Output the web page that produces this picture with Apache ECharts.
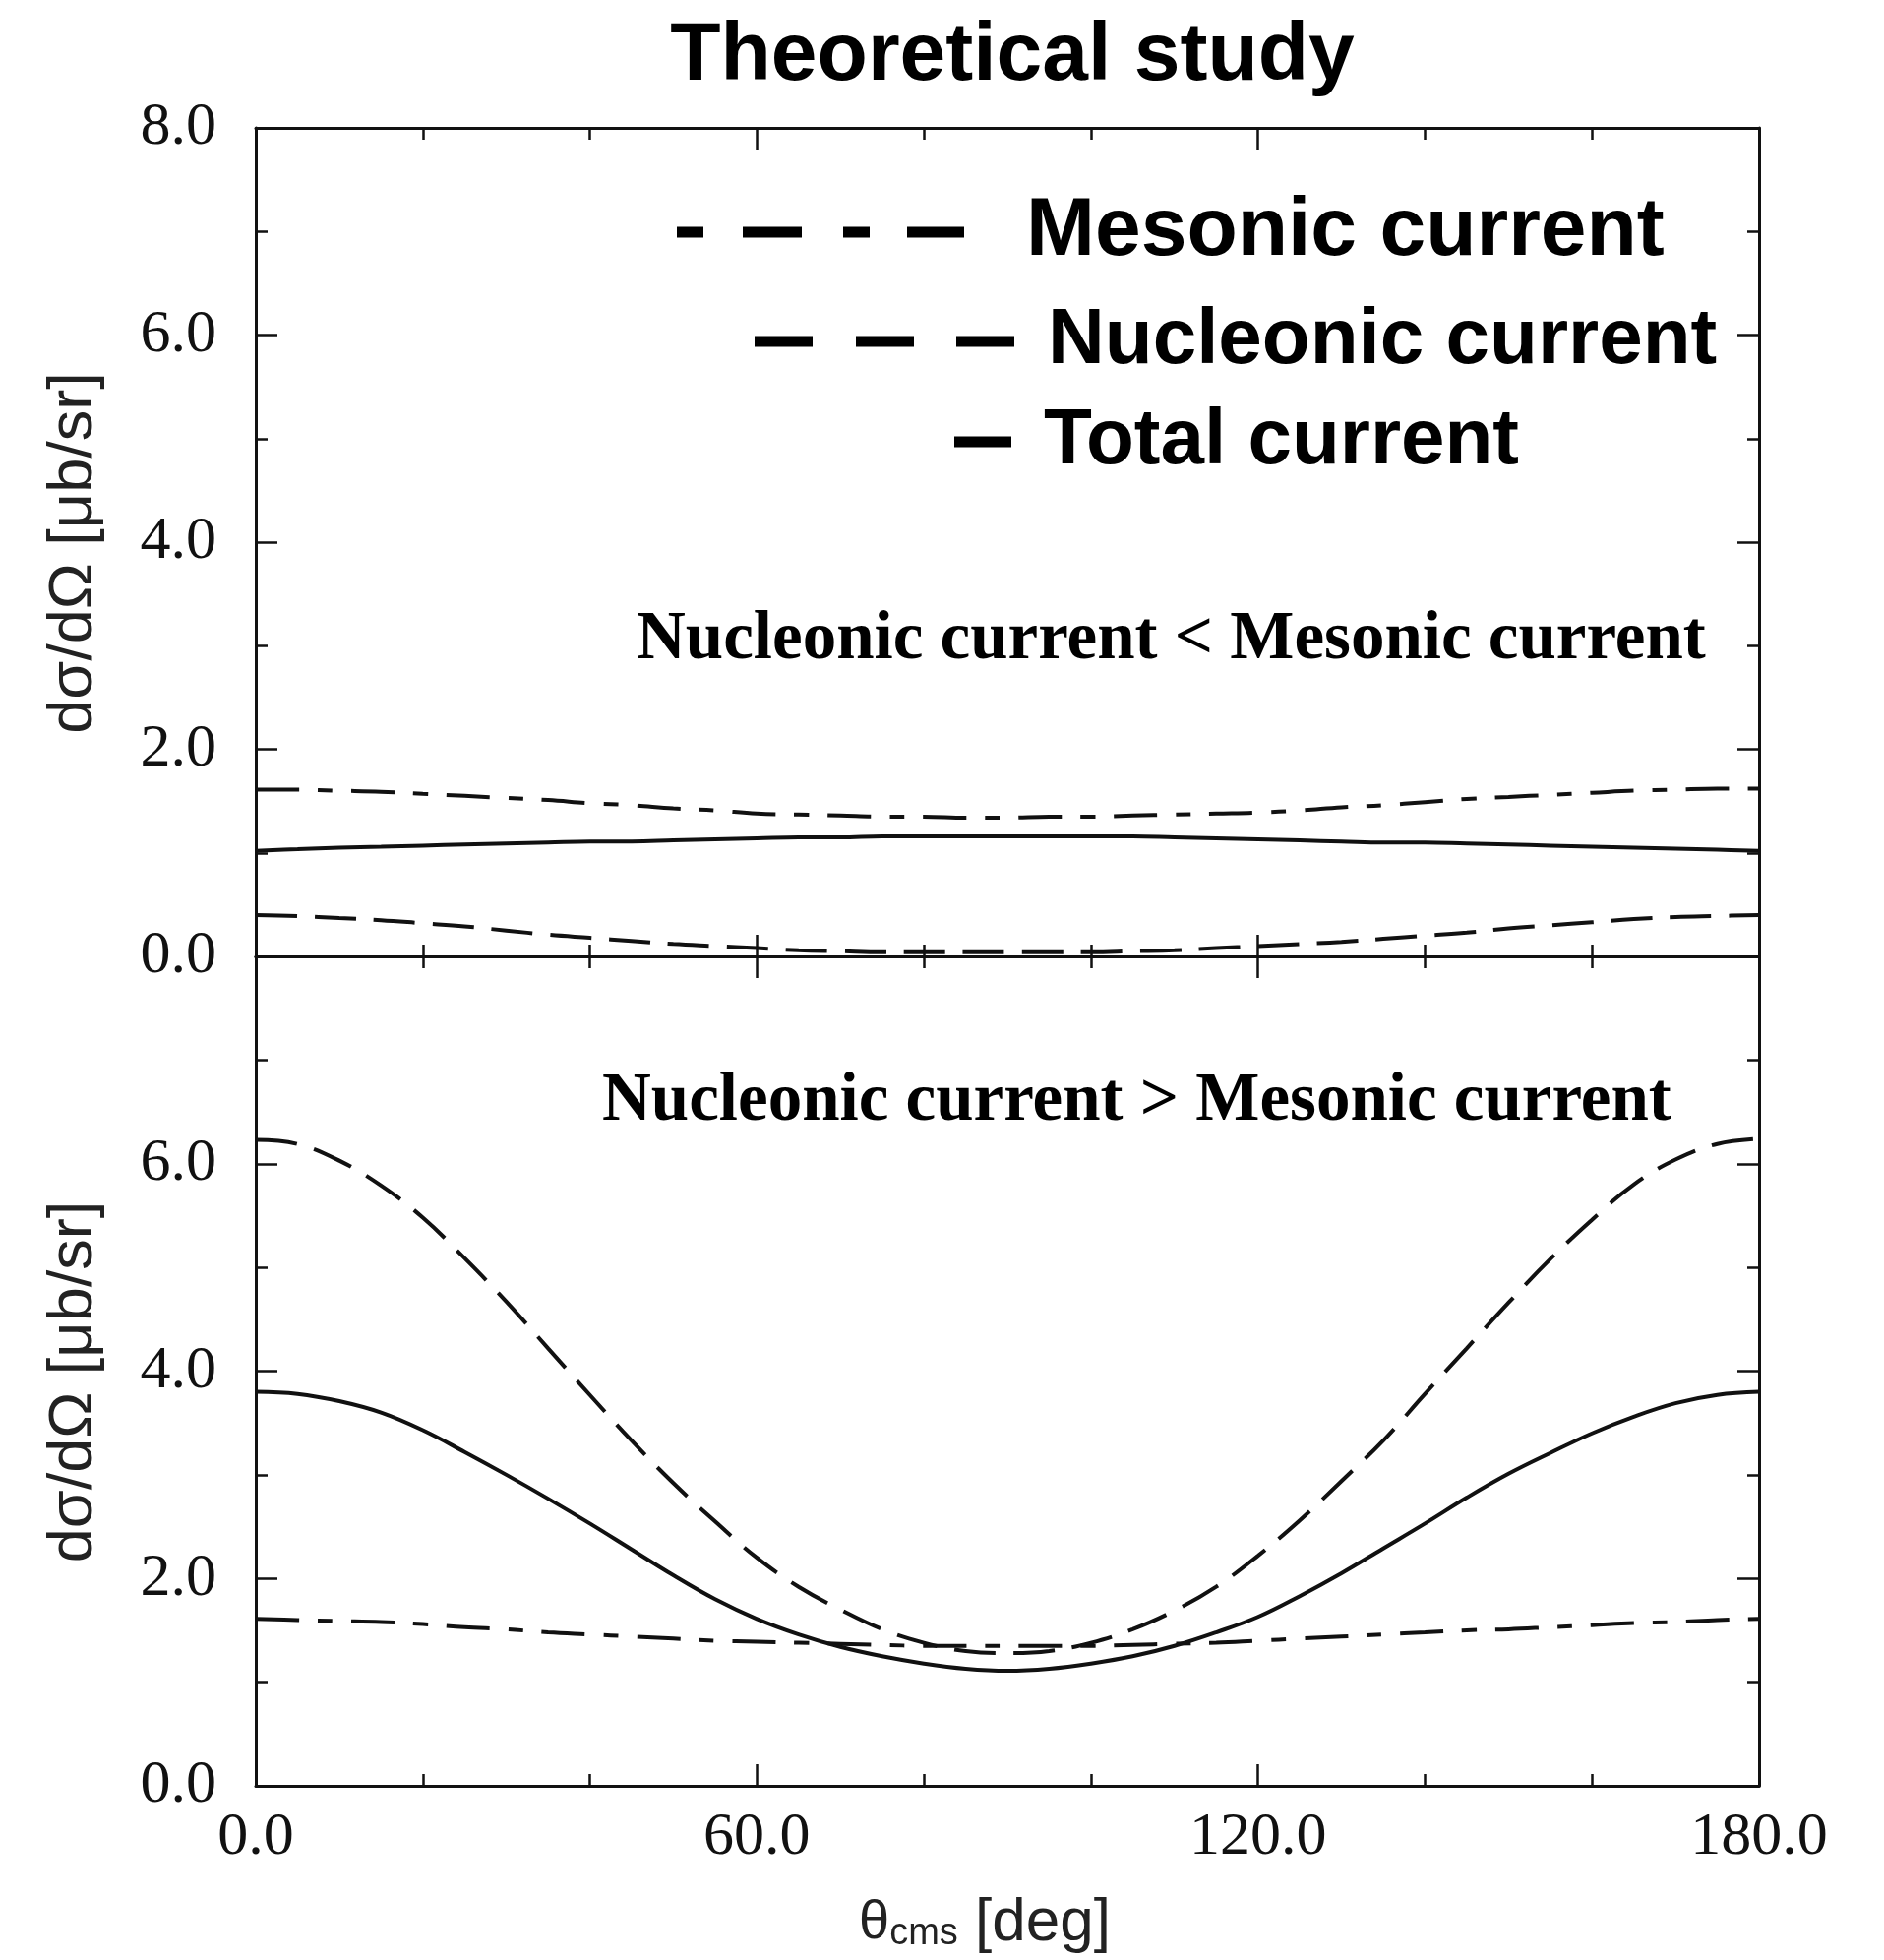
<!DOCTYPE html>
<html>
<head>
<meta charset="utf-8">
<script src="https://cdn.jsdelivr.net/npm/echarts@6/dist/echarts.min.js"></script>
<style>
html,body{margin:0;padding:0;background:#fff;}
#chart{width:1915px;height:1992px;}
</style>
</head>
<body>
<div id="chart"></div>
<script>
// ---- data (theta in degrees, every 5 deg) ----
const angles = [0,5,10,15,20,25,30,35,40,45,50,55,60,65,70,75,80,85,90,
                95,100,105,110,115,120,125,130,135,140,145,150,155,160,165,170,175,180];

// upper panel: Nucleonic current < Mesonic current
const mesonicTop   = [1.61,1.61,1.60,1.59,1.57,1.55,1.53,1.51,1.48,1.46,1.43,1.41,1.38,1.37,1.36,1.35,1.35,1.34,1.34,
                      1.35,1.35,1.36,1.37,1.38,1.39,1.41,1.44,1.46,1.49,1.52,1.54,1.56,1.58,1.60,1.61,1.62,1.62];
const nucleonicTop = [0.40,0.39,0.37,0.35,0.32,0.29,0.25,0.21,0.18,0.15,0.12,0.10,0.08,0.06,0.05,0.04,0.04,0.04,0.04,
                      0.04,0.04,0.05,0.06,0.08,0.10,0.12,0.14,0.17,0.20,0.23,0.27,0.30,0.33,0.36,0.38,0.39,0.40];
const totalTop     = [1.02,1.035,1.05,1.06,1.07,1.08,1.09,1.10,1.11,1.11,1.12,1.13,1.14,1.15,1.15,1.16,1.16,1.16,1.16,
                      1.16,1.16,1.16,1.15,1.14,1.13,1.12,1.11,1.10,1.10,1.09,1.08,1.07,1.06,1.05,1.04,1.03,1.02];

// lower panel: Nucleonic current > Mesonic current
const mesonicBottom   = [1.61,1.60,1.59,1.58,1.56,1.53,1.51,1.48,1.46,1.44,1.42,1.40,1.39,1.38,1.37,1.36,1.35,1.35,1.35,
                         1.35,1.35,1.36,1.37,1.38,1.40,1.42,1.44,1.46,1.48,1.50,1.51,1.53,1.55,1.57,1.58,1.60,1.61];
const nucleonicBottom = [6.23,6.19,6.03,5.79,5.48,5.09,4.67,4.22,3.77,3.33,2.92,2.55,2.20,1.92,1.70,1.51,1.38,1.30,1.28,
                         1.30,1.38,1.51,1.69,1.92,2.22,2.56,2.94,3.33,3.78,4.22,4.66,5.08,5.46,5.80,6.04,6.19,6.24];
const totalBottom     = [3.80,3.78,3.71,3.60,3.43,3.22,3.00,2.77,2.53,2.28,2.03,1.80,1.61,1.46,1.34,1.25,1.18,1.13,1.11,
                         1.13,1.18,1.25,1.35,1.48,1.63,1.83,2.05,2.29,2.53,2.78,3.01,3.21,3.40,3.56,3.69,3.77,3.80];

const xTickLabels = ['0.0','60.0','120.0','180.0'];
const yTickLabels = ['0.0','2.0','4.0','6.0','8.0'];

const seriesNames = ['Mesonic current','Nucleonic current','Total current'];
const titleText = 'Theoretical study';
const noteTop = 'Nucleonic current < Mesonic current';
const noteBottom = 'Nucleonic current > Mesonic current';
const yName = 'dσ/dΩ [μb/sr]';

// ---- styling ----
const INK = '#111';
const SERIF = '"Liberation Serif","Times New Roman",serif';
const SANS = '"Liberation Sans",Arial,sans-serif';
const dashMeson = [44,19,15,19];
const dashNucl = [42,18];
// legend swatch shapes (dash-dot, dashed, solid) as icon paths
const iconMeson = 'path://M0,0H27V11H0Z M67,0H127V11H67Z M169,0H196V11H169Z M234,0H292V11H234Z';
const iconNucl  = 'path://M0,0H59V11H0Z M103,0H162V11H103Z M205,0H264V11H205Z';
const iconTotal = 'path://M0,0H58V11H0Z';

function pairs(arr){ return angles.map((a,i)=>[a,arr[i]]); }

function xAxisCfg(gridIndex, position, showLabels, withName){
  const cfg = {
    type:'value', gridIndex, position, min:0, max:180, interval:60,
    axisLine:{show:true, onZero:false, lineStyle:{color:INK, width:3}},
    axisTick:{show:true, inside:true, length:22, lineStyle:{color:INK, width:2.5}},
    minorTick:{show:true, splitNumber:3, length:12, lineStyle:{color:INK, width:2.5}},
    splitLine:{show:false}, minorSplitLine:{show:false},
    axisLabel:{show:showLabels, margin:22, fontSize:62, fontFamily:SERIF, color:INK,
      formatter:(v)=>xTickLabels[Math.round(v/60)]}
  };
  if (withName){
    cfg.name = '{t|θ}{s|cms}{n| [deg]}';
    cfg.nameLocation = 'middle';
    cfg.nameGap = 110;
    cfg.nameTextStyle = {padding:[0,46,0,0], rich:{
      t:{fontSize:56, fontFamily:SANS, color:'#222', lineHeight:60},
      s:{fontSize:38, fontFamily:SANS, color:'#222', lineHeight:12, verticalAlign:'bottom'},
      n:{fontSize:62, fontFamily:SANS, color:'#222', lineHeight:60}
    }};
  }
  return cfg;
}

function yAxisCfg(gridIndex, position, showLabels, hideTop){
  const cfg = {
    type:'value', gridIndex, position, min:0, max:8, interval:2,
    axisLine:{show:true, onZero:false, lineStyle:{color:INK, width:3}},
    axisTick:{show:true, inside:true, length:22, lineStyle:{color:INK, width:2.5}},
    minorTick:{show:true, splitNumber:2, length:12, lineStyle:{color:INK, width:2.5}},
    splitLine:{show:false}, minorSplitLine:{show:false},
    axisLabel:{show:showLabels, margin:40, fontSize:62, fontFamily:SERIF, color:INK,
      formatter:(v)=> (hideTop && v===8) ? '' : yTickLabels[Math.round(v/2)]}
  };
  if (showLabels){
    cfg.name = yName;
    cfg.nameLocation = 'middle';
    cfg.nameRotate = 90;
    cfg.nameGap = 153;
    cfg.nameTextStyle = {fontSize:63, fontFamily:SANS, color:'#222', padding:[0,22,0,0]};
  }
  return cfg;
}

function lineSeries(name, data, xi, yi, dash){
  return {
    type:'line', name, data:pairs(data), xAxisIndex:xi, yAxisIndex:yi,
    smooth:0.4, symbol:'none', showSymbol:false, silent:true,
    lineStyle:{color:INK, width:4, type:dash, cap:'butt'}
  };
}

function legendCfg(name, icon, left, top, width, gap, fontSize){
  return {
    data:[{name, icon}], left, top, padding:0, itemGap:0, selectedMode:false,
    itemWidth:width, itemHeight:11, symbolKeepAspect:false,
    itemStyle:{color:'#000', borderWidth:0},
    textStyle:{fontSize, fontWeight:'bold', fontFamily:SANS, color:'#000', padding:[0,0,0,gap]}
  };
}

const chart = echarts.init(document.getElementById('chart'), null, {renderer:'canvas'});
chart.setOption({
  backgroundColor:'#fff',
  animation:false,
  title:[
    {text:titleText, left:1029, top:16, textAlign:'center', padding:0,
      textStyle:{fontSize:84, fontWeight:'bold', fontFamily:SANS, color:'#000'}},
    {text:noteTop, left:647, top:617, padding:0,
      textStyle:{fontSize:69, fontWeight:'bold', fontFamily:SERIF, color:'#000'}},
    {text:noteBottom, left:612, top:1086, padding:0,
      textStyle:{fontSize:69, fontWeight:'bold', fontFamily:SERIF, color:'#000'}}
  ],
  legend:[
    legendCfg(seriesNames[0], iconMeson, 688, 194, 292, 58, 84),
    legendCfg(seriesNames[1], iconNucl, 767, 307, 264, 29, 80),
    legendCfg(seriesNames[2], iconTotal, 970, 409, 58, 28, 80)
  ],
  grid:[
    {left:260, top:130, width:1528, height:842},
    {left:260, top:972, width:1528, height:843}
  ],
  xAxis:[
    xAxisCfg(0,'bottom',false,false),
    xAxisCfg(0,'top',false,false),
    xAxisCfg(1,'bottom',true,true),
    xAxisCfg(1,'top',false,false)
  ],
  yAxis:[
    yAxisCfg(0,'left',true,false),
    yAxisCfg(0,'right',false,false),
    yAxisCfg(1,'left',true,true),
    yAxisCfg(1,'right',false,false)
  ],
  series:[
    lineSeries(seriesNames[0], mesonicTop, 0, 0, dashMeson),
    lineSeries(seriesNames[1], nucleonicTop, 0, 0, dashNucl),
    lineSeries(seriesNames[2], totalTop, 0, 0, 'solid'),
    lineSeries(seriesNames[0], mesonicBottom, 2, 2, dashMeson),
    lineSeries(seriesNames[1], nucleonicBottom, 2, 2, dashNucl),
    lineSeries(seriesNames[2], totalBottom, 2, 2, 'solid')
  ]
});
</script>
</body>
</html>
